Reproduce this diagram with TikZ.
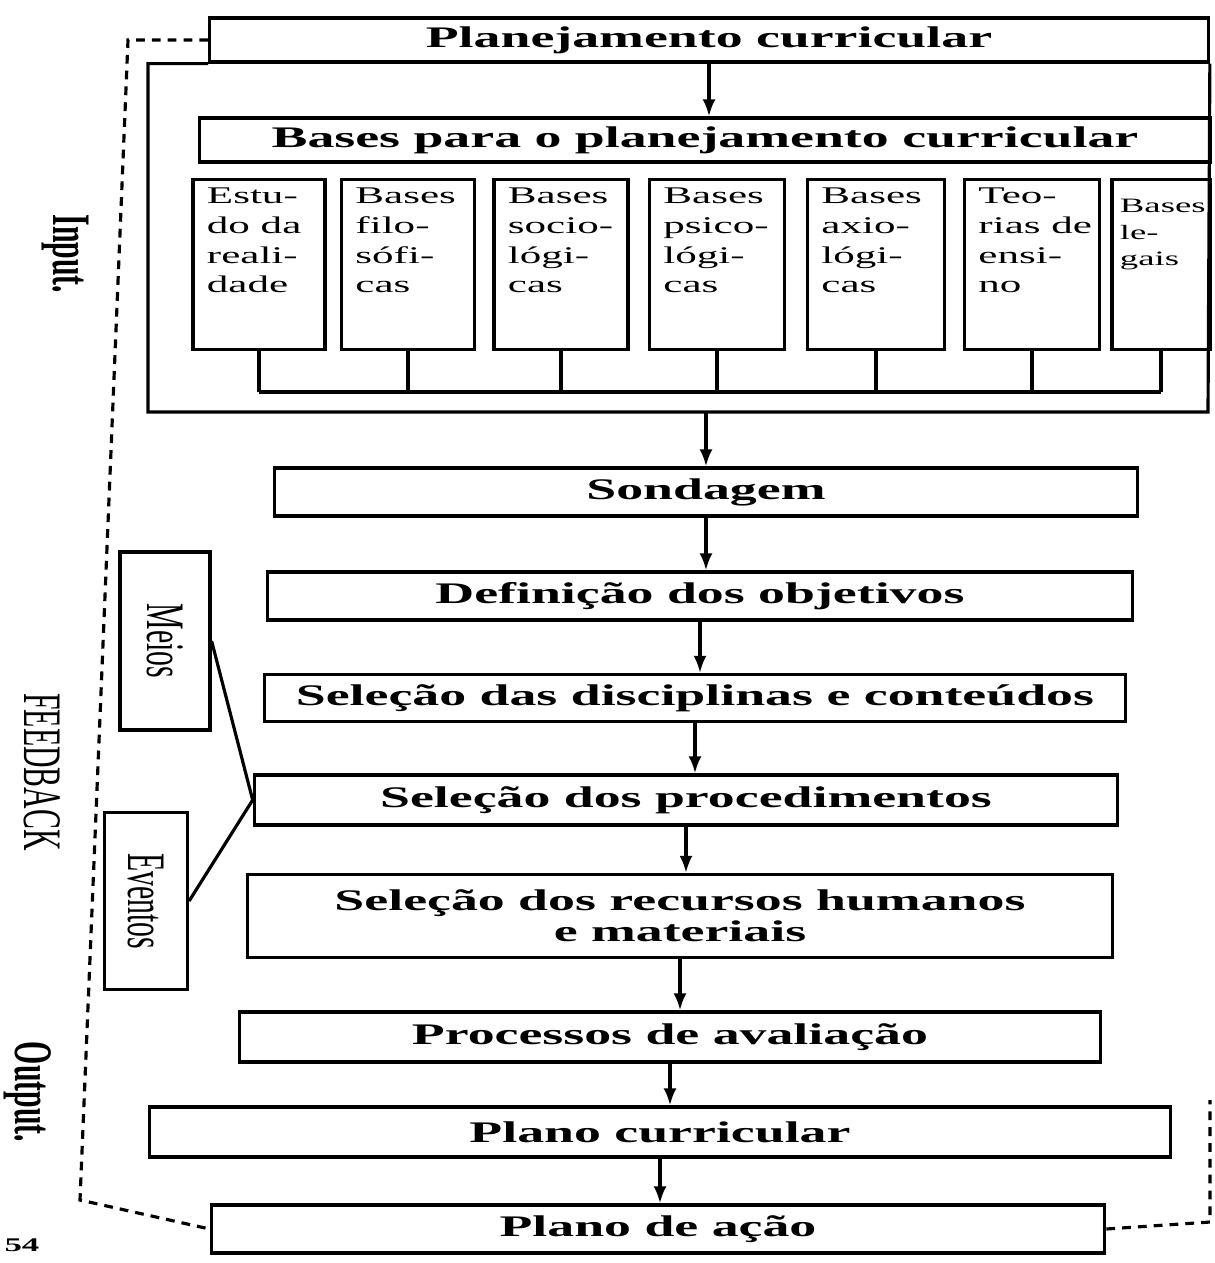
\documentclass[tikz,border=0pt]{standalone}
\usepackage{fontspec}
\setmainfont{Liberation Serif}
\newfontfamily\headfont[FakeStretch=1.8]{Liberation Serif}
\newfontfamily\sidefont[FakeStretch=0.55]{Liberation Serif}
\usetikzlibrary{arrows.meta}

\begin{document}
\begin{tikzpicture}[x=0.01cm,y=-0.01cm]
  \tikzstyle{every node} = [inner sep=0pt]
  \tikzstyle{box} = [draw, line width=0.9pt, rectangle]
  \tikzstyle{flowbox} = [box, align=center, font=\headfont\bfseries\fontsize{8.5pt}{8.7pt}\selectfont]
  \tikzstyle{colbox} = [box, inner xsep=0.14cm, inner ysep=0.08cm, font=\headfont\fontsize{6.8pt}{8.5pt}\selectfont]
  \tikzstyle{sidebox} = [box, font=\sidefont\fontsize{15.4pt}{18pt}\selectfont]
  \tikzstyle{sidelabel} = [rotate=-90, font=\sidefont\fontsize{15.4pt}{18pt}\selectfont]
  \tikzstyle{flow} = [line width=0.9pt, -{Latex[length=0.17cm,width=0.13cm]}]
  \tikzstyle{link} = [line width=0.9pt]
  \tikzstyle{feedback} = [line width=0.9pt, dash pattern=on 2.5pt off 2pt]
  \useasboundingbox (0,0) rectangle (1215,1263);

  % input block
  \node[flowbox, minimum width=9.98cm, minimum height=0.44cm] (plan) at (709,40) {Planejamento curricular};
  \node[flowbox, minimum width=10.1cm, minimum height=0.44cm] (bases) at (705,140) {Bases para o planejamento curricular};
  \foreach \nm/\cx/\bw/\txt in {c1/259/1.32/{Estu-\\do da\\reali-\\dade},
                                c2/408/1.33/{Bases\\filo-\\sófi-\\cas},
                                c3/561/1.34/{Bases\\socio-\\lógi-\\cas},
                                c4/717/1.35/{Bases\\psico-\\lógi-\\cas},
                                c5/876/1.37/{Bases\\axio-\\lógi-\\cas},
                                c6/1032/1.35/{Teo-\\rias de\\ensi-\\no}}
    \node[colbox, anchor=north] (\nm) at (\cx,178)
      {\makebox[\dimexpr\bw cm-0.28cm\relax][l]{\parbox[t][1.54cm][t]{1.3cm}{\raggedright\txt}}};
  \node[colbox, anchor=north, inner xsep=0.08cm, inner ysep=0.2cm, font=\headfont\fontsize{5.8pt}{7.5pt}\selectfont] (c7) at (1161,178)
    {\makebox[0.82cm][l]{\parbox[t][1.3cm][t]{1.1cm}{\raggedright Bases\\le-\\gais}}};

  \coordinate (bus) at (0,392);
  \foreach \nm in {c1,c2,c3,c4,c5,c6,c7}
    \draw[link] (\nm.south) -- (\nm.south |- bus);
  \draw[link] (c1.south |- bus) -- (c7.south |- bus);

  \coordinate (fbl) at (148,412);
  \coordinate (fbr) at (1208,412);
  \draw[link] (plan.south west) -- (plan.south west -| fbl) -- (fbl) -- (fbr) -- (plan.south east);
  \draw[flow] (plan.south) -- (plan.south |- bases.north);

  % main sequence
  \node[flowbox, minimum width=8.63cm, minimum height=0.48cm] (sond) at (706,492) {Sondagem};
  \node[flowbox, minimum width=8.65cm, minimum height=0.48cm] (def) at (700,596) {Definição dos objetivos};
  \node[flowbox, minimum width=8.6cm, minimum height=0.47cm] (disc) at (695,698) {Seleção das disciplinas e conteúdos};
  \node[flowbox, minimum width=8.63cm, minimum height=0.5cm] (proc) at (686,800) {Seleção dos procedimentos};
  \node[flowbox, minimum width=8.64cm, minimum height=0.83cm] (rec) at (680,916) {Seleção dos recursos humanos\\e materiais};
  \node[flowbox, minimum width=8.6cm, minimum height=0.5cm] (aval) at (670,1037) {Processos de avaliação};
  \node[flowbox, minimum width=10.2cm, minimum height=0.5cm] (pcur) at (660,1132) {Plano curricular};
  \node[flowbox, minimum width=8.93cm, minimum height=0.48cm] (pacao) at (658,1229) {Plano de ação};

  \draw[flow] (sond.north |- fbl) -- (sond.north);
  \foreach \a/\b in {sond/def,def/disc,disc/proc,proc/rec,rec/aval,aval/pcur,pcur/pacao}
    \draw[flow] (\a.south) -- (\a.south |- \b.north);

  % means and events
  \node[sidebox, minimum width=0.9cm, minimum height=1.78cm] (meios) at (165,641) {\rotatebox{-90}{Meios}};
  \node[sidebox, minimum width=0.83cm, minimum height=1.77cm] (eventos) at (146,901) {\rotatebox{-90}{Eventos}};
  \draw[link] (meios.east) -- (proc.west) -- (eventos.east);

  % feedback loop
  \draw[feedback] (plan.west) -- (128,40) -- (80,1200) -- (pacao.west);
  \draw[feedback] (pacao.east) -- (1210,1222) -- (1210,1100);

  \node[sidelabel, font=\sidefont\bfseries\fontsize{15.4pt}{18pt}\selectfont] (input) at (65,254) {Input.};
  \node[sidelabel] (fb) at (42,772) {FEEDBACK};
  \node[sidelabel, font=\sidefont\bfseries\fontsize{15.4pt}{18pt}\selectfont] (output) at (28,1092) {Output.};
  \node[font=\headfont\bfseries\fontsize{5.5pt}{6pt}\selectfont] (pg) at (22,1245) {54};
\end{tikzpicture}
\end{document}
